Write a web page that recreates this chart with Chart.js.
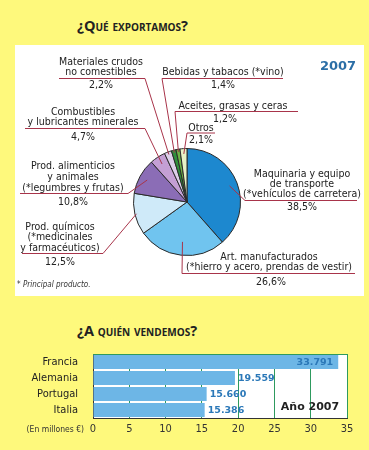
<!DOCTYPE html>
<html>
<head>
<meta charset="utf-8">
<script src="https://cdn.jsdelivr.net/npm/chart.js@4.4.1/dist/chart.umd.min.js"></script>
<style>
  html, body { margin: 0; padding: 0; }
  body { width: 369px; height: 450px; background: #fef97c; position: relative; overflow: hidden; }
  .panel { position: absolute; left: 15px; top: 45px; width: 349px; height: 251px; background: #fff; }
  .title { position: absolute; left: 77px; font: bold 14.5px 'Open Sans', sans-serif; font-variant: small-caps; color: #222; line-height: 16px; }
  #pie { position: absolute; left: 0; top: 0; }
  #bars { position: absolute; left: 0; top: 340px; }
</style>
</head>
<body>
<div class="panel"></div>
<div class="title" style="top:18px">¿Qué exportamos?</div>
<div class="title" style="top:323px">¿A quién vendemos?</div>
<canvas id="pie" width="369" height="300"></canvas>
<canvas id="bars" width="369" height="110"></canvas>
<script>
// qué exportamos (2007, % del total)
const categories = [
  ['Maquinaria y equipo', 'de transporte', '(*vehículos de carretera)'],
  ['Art. manufacturados', '(*hierro y acero, prendas de vestir)'],
  ['Prod. químicos', '(*medicinales', 'y farmacéuticos)'],
  ['Prod. alimenticios', 'y animales', '(*legumbres y frutas)'],
  ['Combustibles', 'y lubricantes minerales'],
  ['Materiales crudos', 'no comestibles'],
  ['Bebidas y tabacos (*vino)'],
  ['Aceites, grasas y ceras'],
  ['Otros']
];
const shares = [38.5, 26.6, 12.5, 10.8, 4.7, 2.2, 1.4, 1.2, 2.1];

// a quién vendemos (2007, en millones €)
const countries = ['Francia', 'Alemania', 'Portugal', 'Italia'];
const sales = [33.791, 19.559, 15.660, 15.386];
const xTicks = [0, 5, 10, 15, 20, 25, 30, 35];

const sliceColors = ['#1d88cf', '#70c4ef', '#cfeaf9', '#8b6db6', '#c49fd4', '#dccfe9', '#2f8f3c', '#6cb446', '#e7f1c6'];
const leaderColor = '#a8344a';
const labelFont = "10.5px 'DejaVu Sans Condensed', 'DejaVu Sans', sans-serif";

// where each label sits and where its leader starts (x, y = first text line)
const labelLayout = [
  { cx: 302, y: 174, step: 10, ul: [245, 357, 200.5], from: [245, 200.5], pct: [302, 207], depth: 0.85 },
  { cx: 269, y: 257, step: 10.5, ul: [182, 355, 273.5], from: [182, 273.5], pct: [271, 282], depth: 0.75 },
  { cx: 60, y: 227, step: 10.5, ul: [22, 103, 253.5], from: [103, 253.5], pct: [60, 262], depth: 0.97 },
  { cx: 73, y: 166, step: 11, ul: [20, 128, 193.5], from: [128, 193.5], pct: [73, 202], depth: 0.85 },
  { cx: 83, y: 112, step: 10, ul: [25, 145, 128.5], from: [145, 128.5], pct: [83, 137], depth: 0.85 },
  { cx: 101, y: 62, step: 10, ul: [59, 145, 78.5], from: [145, 78.5], pct: [101, 85], depth: 0.95 },
  { cx: 223, y: 72, step: 10, ul: [162, 283, 78.5], from: [162, 78.5], pct: [223, 85], depth: 0.95 },
  { cx: 233, y: 106.5, step: 10, ul: [175, 298, 111.5], from: [175, 111.5], pct: [225, 119.5], depth: 0.95 },
  { cx: 201, y: 128, step: 10, ul: [187, 215, 133], from: [187, 133], pct: [201, 140], depth: 0.9 }
];

const pctText = v => v.toFixed(1).replace('.', ',') + '%';

const pieLabels = {
  id: 'pieLabels',
  afterDatasetsDraw(chart) {
    const ctx = chart.ctx;
    const meta = chart.getDatasetMeta(0);
    ctx.save();
    ctx.lineWidth = 1;
    ctx.strokeStyle = leaderColor;
    labelLayout.forEach((L, i) => {
      const arc = meta.data[i].getProps(['x', 'y', 'startAngle', 'endAngle', 'outerRadius'], true);
      const mid = (arc.startAngle + arc.endAngle) / 2;
      const px = arc.x + Math.cos(mid) * arc.outerRadius * L.depth;
      const py = arc.y + Math.sin(mid) * arc.outerRadius * L.depth;
      ctx.beginPath();
      ctx.moveTo(L.ul[0], L.ul[2]);
      ctx.lineTo(L.ul[1], L.ul[2]);
      ctx.moveTo(L.from[0], L.from[1]);
      ctx.lineTo(px, py);
      ctx.stroke();

      ctx.fillStyle = '#222';
      ctx.font = labelFont;
      ctx.textAlign = 'center';
      ctx.textBaseline = 'middle';
      categories[i].forEach((line, k) => ctx.fillText(line, L.cx, L.y + k * L.step));
      ctx.fillText(pctText(shares[i]), L.pct[0], L.pct[1]);
    });

    ctx.fillStyle = '#2b6ea6';
    ctx.font = "bold 13px 'DejaVu Sans', sans-serif";
    ctx.fillText('2007', 338, 67);

    ctx.fillStyle = '#333';
    ctx.textAlign = 'left';
    ctx.font = "italic 8px 'DejaVu Sans Condensed', 'DejaVu Sans', sans-serif";
    ctx.fillText('* Principal producto.', 17, 285);
    ctx.restore();
  }
};

new Chart(document.getElementById('pie'), {
  type: 'pie',
  data: {
    labels: categories.map(c => c.join(' ')),
    datasets: [{
      data: shares,
      backgroundColor: sliceColors,
      borderColor: '#2a2a2a',
      borderWidth: 1
    }]
  },
  options: {
    responsive: false,
    animation: false,
    layout: { padding: { left: 133, right: 128, top: 148, bottom: 44 } },
    plugins: { legend: { display: false }, tooltip: { enabled: false } }
  },
  plugins: [pieLabels]
});

const barExtras = {
  id: 'barExtras',
  beforeDraw(chart) {
    const { ctx, chartArea: a } = chart;
    ctx.save();
    ctx.fillStyle = '#fff';
    ctx.fillRect(a.left, a.top, a.right - a.left, a.bottom - a.top);
    ctx.restore();
  },
  afterDraw(chart) {
    const { ctx, chartArea: a } = chart;
    const meta = chart.getDatasetMeta(0);
    ctx.save();
    ctx.strokeStyle = '#2e9a5e';
    ctx.lineWidth = 1;
    ctx.beginPath();
    ctx.moveTo(a.left, a.top + 0.5);
    ctx.lineTo(a.right, a.top + 0.5);
    ctx.stroke();

    ctx.font = "bold 9.5px 'DejaVu Sans', sans-serif";
    ctx.fillStyle = '#2b78b8';
    ctx.textBaseline = 'middle';
    meta.data.forEach((bar, i) => {
      const txt = sales[i].toFixed(3);
      if (sales[i] > 30) {
        ctx.textAlign = 'right';
        ctx.fillText(txt, bar.x - 5, bar.y + 1);
      } else {
        ctx.textAlign = 'left';
        ctx.fillText(txt, bar.x + 3, bar.y + 1);
      }
    });

    ctx.fillStyle = '#222';
    ctx.font = "bold 11px 'DejaVu Sans', sans-serif";
    ctx.textAlign = 'center';
    ctx.fillText('Año 2007', 310, 67);

    ctx.fillStyle = '#333';
    ctx.font = "8.5px 'DejaVu Sans Condensed', 'DejaVu Sans', sans-serif";
    ctx.textAlign = 'right';
    ctx.fillText('(En millones €)', 84, 90);
    ctx.restore();
  }
};

const tickFont = { family: "'DejaVu Sans Condensed', 'DejaVu Sans', sans-serif", size: 11 };

new Chart(document.getElementById('bars'), {
  type: 'bar',
  data: {
    labels: countries,
    datasets: [{
      data: sales,
      backgroundColor: '#6db6e6',
      barPercentage: 0.86,
      categoryPercentage: 1
    }]
  },
  options: {
    indexAxis: 'y',
    responsive: false,
    animation: false,
    layout: { padding: { left: 0, right: 22, top: 14, bottom: 0 } },
    plugins: { legend: { display: false }, tooltip: { enabled: false } },
    scales: {
      x: {
        min: xTicks[0],
        max: xTicks[xTicks.length - 1],
        afterBuildTicks: s => { s.ticks = xTicks.map(v => ({ value: v })); },
        ticks: { color: '#333', font: tickFont, padding: 5, autoSkip: false, maxRotation: 0 },
        grid: { color: '#2e9a5e', drawTicks: false },
        border: { color: '#333' },
        afterFit: s => { s.height = 32; }
      },
      y: {
        ticks: { color: '#222', font: tickFont, padding: 7, autoSkip: false },
        grid: { display: false },
        border: { color: '#333' },
        afterFit: s => { s.width = 93; }
      }
    }
  },
  plugins: [barExtras]
});
</script>
</body>
</html>
